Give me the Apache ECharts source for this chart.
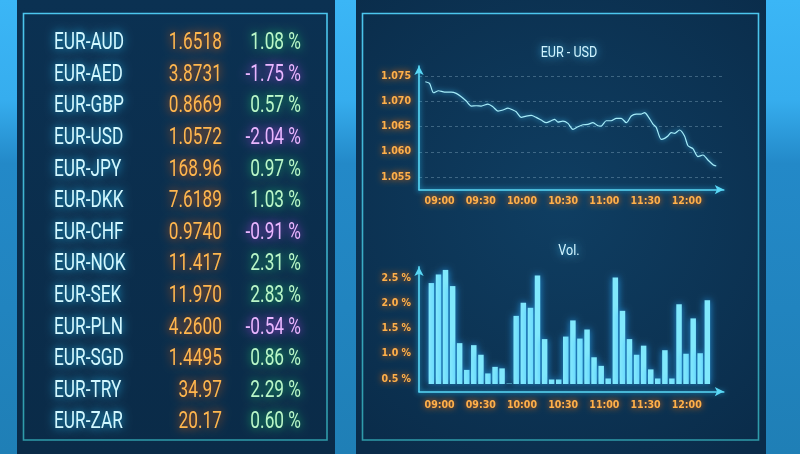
<!DOCTYPE html>
<html>
<head>
<meta charset="utf-8">
<script src="https://cdn.jsdelivr.net/npm/echarts@6/dist/echarts.min.js"></script>
<style>html,body{margin:0;padding:0;background:#1e80b8;}#c{width:800px;height:454px;}</style>
</head>
<body>
<div id="c"></div>
<script>
// ---------- data ----------
const pairs = ['EUR-AUD','EUR-AED','EUR-GBP','EUR-USD','EUR-JPY','EUR-DKK','EUR-CHF','EUR-NOK','EUR-SEK','EUR-PLN','EUR-SGD','EUR-TRY','EUR-ZAR'];
const rates = ['1.6518','3.8731','0.8669','1.0572','168.96','7.6189','0.9740','11.417','11.970','4.2600','1.4495','34.97','20.17'];
const changes = [1.08,-1.75,0.57,-2.04,0.97,1.03,-0.91,2.31,2.83,-0.54,0.86,2.29,0.60];

// EUR-USD intraday (minutes since midnight, rate)
const usdTimes = [529.6,532.7,535.6,539.3,543.6,548.5,552.1,555.8,559.4,563.1,566.7,570.3,575.2,578.8,582.5,586.1,589.8,593.4,595.8,599.5,603.1,606.8,610.4,614.0,617.7,621.3,623.8,626.2,629.8,633.5,637.1,640.8,644.4,648.0,651.7,655.3,657.7,661.4,665.0,668.7,672.3,676.0,679.6,683.2,686.9,689.3,691.7,695.4,697.8,701.4,703.9,706.3,708.7,711.2,714.8,718.4,720.9,724.5,728.2,731.8,735.4,739.1,741.5];
const usdRates = [1.07388,1.07355,1.0717,1.07209,1.07183,1.07183,1.07157,1.0709,1.07005,1.06906,1.06912,1.06906,1.06945,1.06893,1.06807,1.06827,1.06866,1.06827,1.06794,1.06681,1.06708,1.06721,1.06681,1.06629,1.06576,1.06615,1.06642,1.06589,1.06609,1.06563,1.06444,1.06497,1.06536,1.06543,1.06576,1.06516,1.0651,1.06615,1.06615,1.06662,1.06662,1.06576,1.06708,1.06747,1.06747,1.06774,1.06708,1.06549,1.06483,1.06246,1.06266,1.06312,1.06378,1.06365,1.06431,1.06312,1.0612,1.06061,1.05903,1.05936,1.05837,1.05744,1.05718];

// Volume bars (minutes since midnight, %)
const volTimes = [534.0,539.2,544.3,549.5,554.6,559.8,564.9,570.1,575.2,580.4,585.5,590.7,595.8,601.0,606.2,611.3,616.5,621.6,626.8,631.9,637.1,642.2,647.4,652.5,657.7,662.8,668.0,673.2,678.3,683.5,688.6,693.8,698.9,704.1,709.2,714.4,719.5,724.7,729.8,735.0];
const volValues = [2.40,2.57,2.66,2.34,1.21,0.68,1.17,0.98,0.61,0.74,0.71,0.41,1.75,2.01,1.91,2.55,1.29,0.49,0.49,1.34,1.66,1.30,1.48,0.93,0.76,0.51,2.51,1.85,1.29,0.98,1.16,0.69,0.51,1.07,0.51,1.98,1.00,1.70,1.01,2.06];

const timeTicks = ['09:00','09:30','10:00','10:30','11:00','11:30','12:00'];
const rateTicks = ['1.055','1.060','1.065','1.070','1.075'];
const volTicks = ['0.5 %','1.0 %','1.5 %','2.0 %','2.5 %'];

// ---------- styling ----------
const chart = echarts.init(document.getElementById('c'), null, {renderer:'canvas'});
const BAR_BASE = 0.4;
const RATE_COL = 0.68;
const lbl = {
  color:'#ffb04a', fontSize:10.5, fontWeight:'bold',
  fontFamily:"'Liberation Sans Narrow','DejaVu Sans Condensed','Roboto',sans-serif",
  textShadowColor:'rgba(255,110,0,0.95)', textShadowBlur:6
};
const axLine = {
  show:true, symbol:['none','arrow'], symbolSize:[7,9],
  lineStyle:{color:'#5ad8f6', width:1.6, shadowBlur:5, shadowColor:'rgba(40,200,255,0.9)'}
};
function fmtTime(v){
  const h = Math.floor(v/60), m = Math.round(v - h*60);
  const s = (h<10?'0':'')+h+':'+(m<10?'0':'')+m;
  return timeTicks.indexOf(s) >= 0 ? s : '';
}
const lin = (stops) => ({type:'linear',x:0,y:0,x2:0,y2:1,colorStops:stops});
const titleText = (txt, y) => ({type:'text', z:10, silent:true, x:569, y:y, scaleX:0.9,
  style:{text:txt, font:"14px Roboto,sans-serif", fill:'#d0f4ff', align:'center', verticalAlign:'middle',
         textShadowBlur:8, textShadowColor:'rgba(60,200,255,0.95)'}});

const option = {
  backgroundColor: lin([{offset:0,color:'#3bb6f6'},{offset:0.22,color:'#36adee'},{offset:0.36,color:'#2389c8'},{offset:1,color:'#1f7fb6'}]),
  animation:false,
  graphic:[
    {type:'rect', z:-10, silent:true, shape:{x:17,y:0,width:318,height:454},
     style:{fill: lin([{offset:0,color:'#0b3152'},{offset:1,color:'#0a2b48'}])}},
    {type:'rect', z:-10, silent:true, shape:{x:356,y:0,width:410,height:454},
     style:{fill:{type:'radial',x:0.5,y:0.45,r:0.75,colorStops:[{offset:0,color:'#0f3e62'},{offset:1,color:'#0a2c4a'}]}}},
    {type:'rect', z:-9, silent:true, shape:{x:23.5,y:13.5,width:303.5,height:426.5},
     style:{fill:'none', lineWidth:1.6, stroke: lin([{offset:0,color:'#4cc6ee'},{offset:1,color:'#2e9aa8'}])}},
    {type:'rect', z:-9, silent:true, shape:{x:362.5,y:13.5,width:396,height:426.5},
     style:{fill:'none', lineWidth:1.6, stroke: lin([{offset:0,color:'#4cc6ee'},{offset:1,color:'#2e9aa8'}])}},
    titleText('EUR - USD', 53),
    titleText('Vol.', 251)
  ],
  grid:[
    {left:419, right:76.2, top:66, bottom:264.4},
    {left:419, right:76.2, top:266.9, bottom:62.4},
    {left:54, right:499, top:27.5, bottom:15.9}
  ],
  xAxis:[
    {type:'value', gridIndex:0, min:525, max:747, interval:5, axisLine:axLine, axisTick:{show:false},
     splitLine:{show:false}, axisLabel:Object.assign({}, lbl, {margin:6, formatter:fmtTime})},
    {type:'value', gridIndex:1, min:525, max:747, interval:5, axisLine:axLine, axisTick:{show:false},
     splitLine:{show:false}, axisLabel:Object.assign({}, lbl, {margin:8, formatter:fmtTime})},
    {type:'value', gridIndex:2, min:0, max:1, show:false}
  ],
  yAxis:[
    {type:'value', gridIndex:0, min:1.0525, max:1.077, interval:0.0025, axisLine:axLine, axisTick:{show:false},
     splitLine:{show:true, lineStyle:{type:[3,3], width:1, color:['rgba(0,0,0,0)','rgba(190,225,245,0.28)']}},
     axisLabel:Object.assign({}, lbl, {margin:8, formatter:v => rateTicks.indexOf(v.toFixed(3))>=0 ? v.toFixed(3) : ''})},
    {type:'value', gridIndex:1, min:0.25, max:2.72, interval:0.25, axisLine:axLine, axisTick:{show:false},
     splitLine:{show:false},
     axisLabel:Object.assign({}, lbl, {margin:8, formatter:v => { const s = v.toFixed(1)+' %'; return volTicks.indexOf(s)>=0 ? s : ''; }})},
    {type:'category', gridIndex:2, data:pairs, inverse:true, show:false}
  ],
  series:[
    {type:'line', xAxisIndex:0, yAxisIndex:0, showSymbol:false, smooth:0.25,
     data: usdTimes.map((t,i)=>[t, usdRates[i]]),
     lineStyle:{color:'#a6ebf8', width:1.2, shadowBlur:5, shadowColor:'rgba(60,200,255,0.9)'}},
    {type:'custom', xAxisIndex:1, yAxisIndex:1,
     data: volTimes.map((t,i)=>[t, volValues[i]]),
     renderItem:(params, api) => {
       const top = api.coord([api.value(0), api.value(1)]);
       const base = api.coord([api.value(0), BAR_BASE]);
       const w = 5.5;
       return {type:'rect', shape:{x:top[0]-w/2, y:top[1], width:w, height:base[1]-top[1]},
               style:{fill:'#80e8fc', shadowBlur:7, shadowColor:'rgba(40,170,255,0.85)'}};
     }},
    {type:'custom', xAxisIndex:2, yAxisIndex:2,
     data: pairs.map((p,i)=>[0, i]),
     renderItem:(params, api) => {
       const i = api.value(1);
       const pN = api.coord([0, i]);
       const pR = api.coord([RATE_COL, i]);
       const pC = api.coord([1, i]);
       const font = "24px Roboto,'Open Sans',sans-serif";
       const ch = changes[i];
       const pos = ch >= 0;
       const mk = (x, y, text, fill, glow, align) => ({
         type:'text', x:x, y:y, scaleX:0.72,
         style:{text:text, font:font, fill:fill, textAlign:align, textVerticalAlign:'middle',
                textShadowBlur:10, textShadowColor:glow}
       });
       return {type:'group', children:[
         mk(pN[0], pN[1], pairs[i], '#d2f8ff', 'rgba(40,200,255,1)', 'left'),
         mk(pR[0], pR[1], rates[i], '#ffb64e', 'rgba(255,100,0,1)', 'right'),
         mk(pC[0], pC[1], ch.toFixed(2)+' %', pos ? '#baf7c8' : '#eab6ff',
            pos ? 'rgba(30,215,110,1)' : 'rgba(200,70,255,1)', 'right')
       ]};
     }}
  ]
};
chart.setOption(option);
</script>
</body>
</html>
